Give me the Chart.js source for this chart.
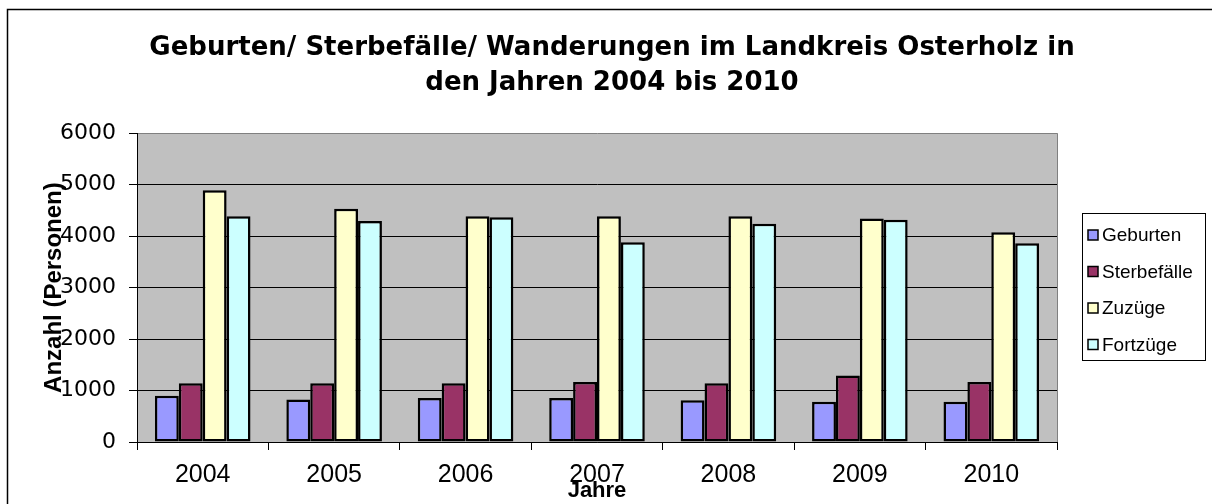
<!DOCTYPE html>
<html>
<head>
<meta charset="utf-8">
<script src="https://cdn.jsdelivr.net/npm/chart.js@4/dist/chart.umd.min.js"></script>
<style>
  html, body { margin: 0; padding: 0; background: #fff; }
  #wrap { width: 1212px; height: 504px; position: relative; }
</style>
</head>
<body>
<div id="wrap"><canvas id="c" width="1212" height="504"></canvas></div>
<script>
const titleLines = ['Geburten/ Sterbefälle/ Wanderungen im Landkreis Osterholz in', 'den Jahren 2004 bis 2010'];
const years = ['2004', '2005', '2006', '2007', '2008', '2009', '2010'];
const seriesNames = ['Geburten', 'Sterbefälle', 'Zuzüge', 'Fortzüge'];
const geburten    = [900, 825, 855, 855, 810, 780, 780];
const sterbefaelle = [1140, 1140, 1140, 1165, 1140, 1290, 1165];
const zuzuege     = [4890, 4530, 4385, 4385, 4385, 4340, 4075];
const fortzuege   = [4385, 4295, 4365, 3880, 4240, 4320, 3860];
const seriesColors = ['#9999FF', '#993366', '#FFFFCC', '#CCFFFF'];
const yTicks = [0, 1000, 2000, 3000, 4000, 5000, 6000];
const yTitle = 'Anzahl (Personen)';
const xTitle = 'Jahre';

const FONT = "'Liberation Sans', Arial, sans-serif";
const WIDE = "'DejaVu Sans', 'Liberation Sans', sans-serif";
const values = [geburten, sterbefaelle, zuzuege, fortzuege];

const bgPlugin = {
  id: 'bg',
  beforeDraw(chart) {
    const {ctx, chartArea: a} = chart;
    ctx.save();
    ctx.fillStyle = '#C0C0C0';
    ctx.fillRect(a.left, a.top, a.right - a.left, a.bottom - a.top);
    ctx.restore();
  },
  afterDraw(chart) {
    const {ctx, chartArea: a} = chart;
    ctx.save();
    ctx.strokeStyle = '#808080';
    ctx.lineWidth = 1;
    ctx.beginPath();
    ctx.moveTo(a.right + 0.5, a.top);
    ctx.lineTo(a.right + 0.5, a.bottom);
    ctx.stroke();
    ctx.strokeStyle = '#000';
    ctx.lineWidth = 1.5;
    ctx.beginPath();
    ctx.moveTo(7.5, 520);
    ctx.lineTo(7.5, 9.5);
    ctx.lineTo(1230, 9.5);
    ctx.stroke();
    const ds = chart.data.datasets;
    const bx = a.right + 25, by = 213, bw = 123, bh = 147;
    ctx.strokeStyle = '#000';
    ctx.lineWidth = 1;
    ctx.strokeRect(bx + 0.5, by + 0.5, bw, bh);
    ctx.font = '19px ' + FONT;
    ctx.textBaseline = 'middle';
    ctx.textAlign = 'left';
    ds.forEach((d, i) => {
      const cy = 235 + i * 36.5;
      ctx.fillStyle = d.backgroundColor;
      ctx.fillRect(bx + 6, cy - 5, 10, 10);
      ctx.lineWidth = 1.5;
      ctx.strokeStyle = '#000';
      ctx.strokeRect(bx + 6, cy - 5, 10, 10);
      ctx.fillStyle = '#000';
      ctx.fillText(d.label, bx + 20, cy + 1);
    });
    ctx.restore();
  }
};

new Chart(document.getElementById('c'), {
  type: 'bar',
  data: {
    labels: years,
    datasets: seriesNames.map((n, i) => ({
      label: n,
      data: values[i],
      backgroundColor: seriesColors[i],
      borderColor: '#000',
      borderWidth: 2.5,
      inflateAmount: 0,
      borderSkipped: false,
      categoryPercentage: 4 / 5.5,
      barPercentage: 1.0
    }))
  },
  options: {
    responsive: false,
    animation: false,
    devicePixelRatio: 1,
    layout: { padding: { left: 12, right: 0, top: 0, bottom: 0 } },
    plugins: {
      legend: { display: false },
      tooltip: { enabled: false },
      title: {
        display: true,
        text: titleLines,
        color: '#000',
        font: { family: WIDE, size: 26, weight: 'bold', lineHeight: 1.33 },
        padding: { top: 31, bottom: 33 }
      }
    },
    scales: {
      x: {
        grid: { display: true, drawOnChartArea: false, drawTicks: true, tickLength: 8, color: '#000', offset: true },
        border: { display: true, color: '#000', width: 1 },
        ticks: { color: '#000', font: { family: FONT, size: 25 }, padding: 10 },
        title: { display: true, text: xTitle, color: '#000', font: { family: FONT, size: 22, weight: 'bold', lineHeight: 1.2 }, padding: 0 },
        afterFit(s) { s.height = 62; }
      },
      y: {
        min: 0, max: 6000,
        afterBuildTicks(s) { s.ticks = yTicks.map(v => ({ value: v })); },
        grid: {
          color: (c) => (c.tick && c.tick.value === 6000 ? '#808080' : '#000'),
          tickColor: '#000',
          tickLength: 8,
          lineWidth: 1
        },
        border: { display: true, color: '#000', width: 1 },
        ticks: { color: '#000', font: { family: WIDE, size: 22 }, padding: 13, callback: (v) => String(v) },
        title: { display: true, text: yTitle, color: '#000', font: { family: FONT, size: 24, weight: 'bold', lineHeight: 1.2 }, padding: { top: 28 } },
        afterFit(s) { s.width = 125; }
      },
      pad: {
        type: 'linear',
        position: 'right',
        display: true,
        grid: { display: false, drawTicks: false },
        border: { display: false },
        ticks: { display: false },
        afterFit(s) { s.width = 155; }
      }
    }
  },
  plugins: [bgPlugin]
});
</script>
</body>
</html>
